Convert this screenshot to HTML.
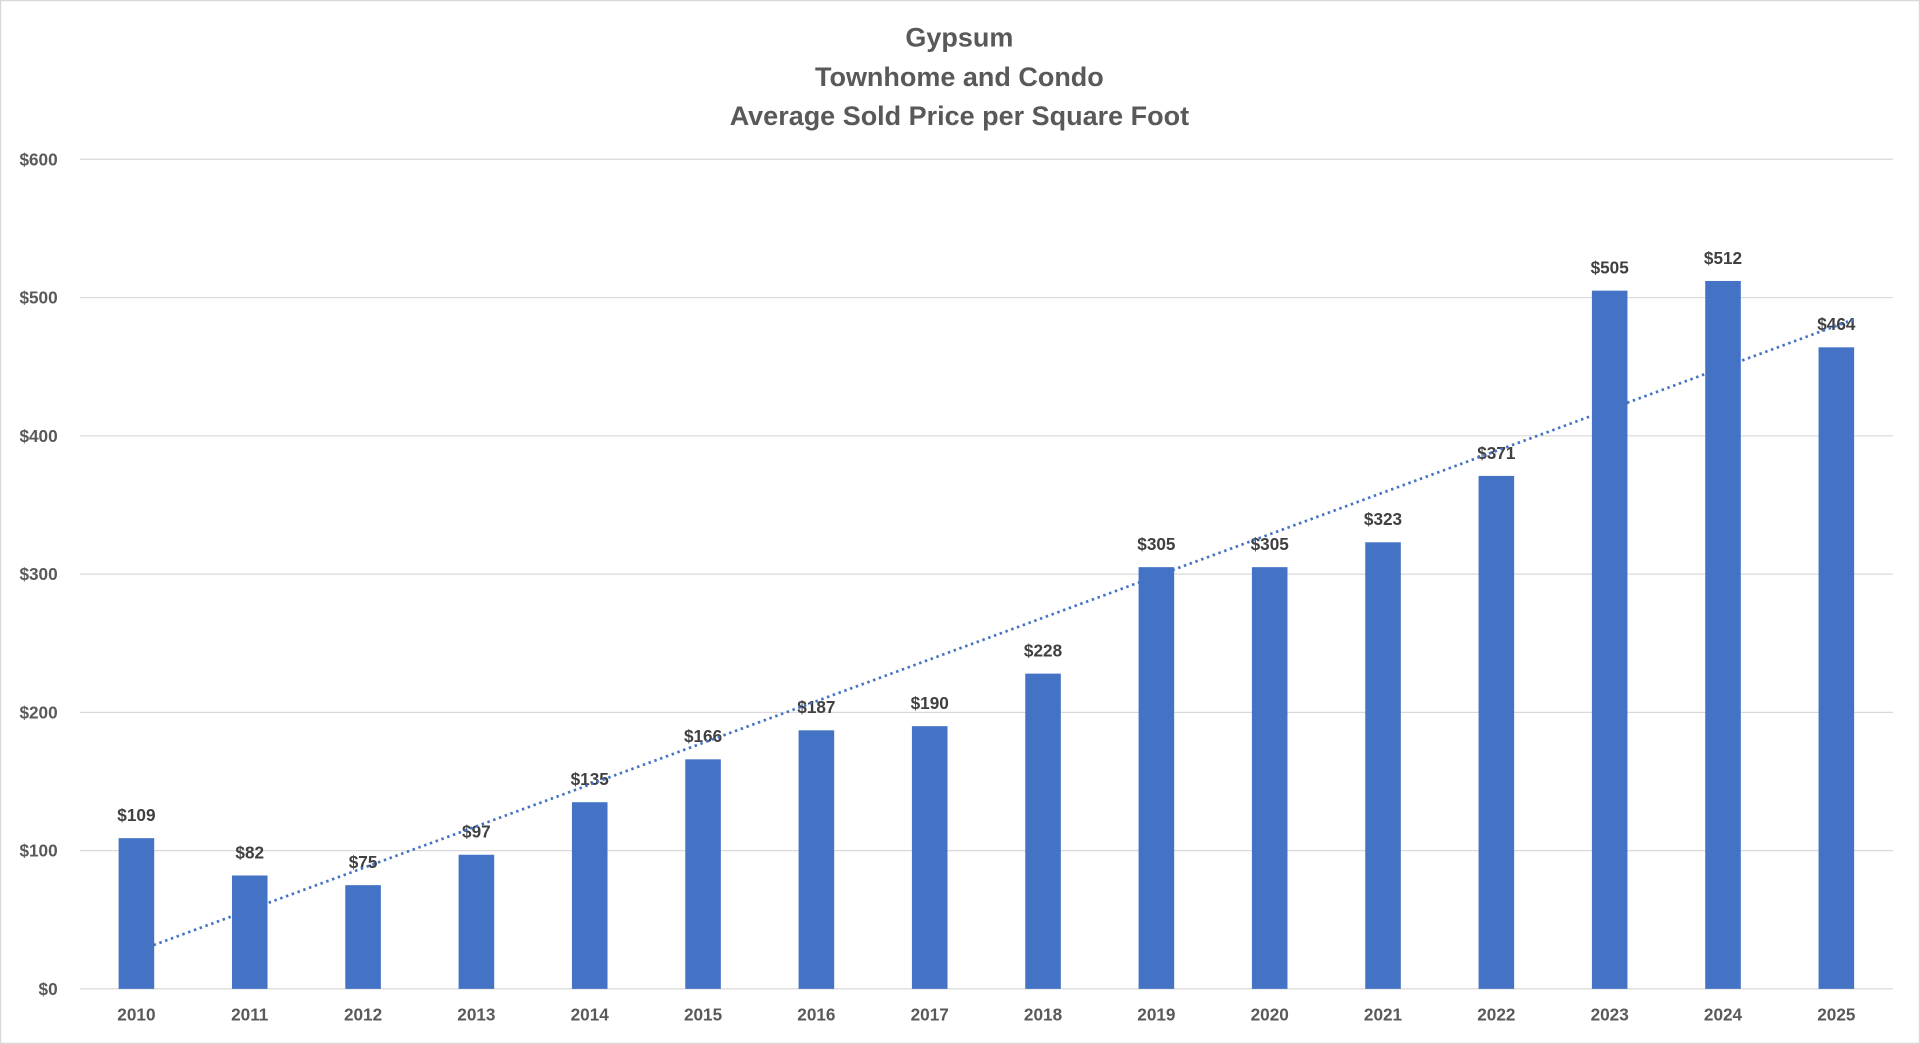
<!DOCTYPE html>
<html><head><meta charset="utf-8">
<style>
html,body{margin:0;padding:0;background:#fff;}
svg{display:block;}
text{font-family:"Liberation Sans",Arial,sans-serif;font-weight:bold;}
</style></head>
<body>
<svg id="chart" width="1920" height="1044" viewBox="0 0 1565 852" preserveAspectRatio="none" xmlns="http://www.w3.org/2000/svg">
<rect x="0.5" y="0.5" width="1564" height="851" fill="#fff" stroke="#d9d9d9"/>
<g fill="#595959" font-size="22" text-anchor="middle">
<text x="782" y="38">Gypsum</text>
<text x="782" y="70">Townhome and Condo</text>
<text x="782" y="102">Average Sold Price per Square Foot</text>
</g>
<g id="grid"></g><g id="bars"></g><g id="labels"></g><g id="trend"></g>
</svg>
<script>
const categories=["2010","2011","2012","2013","2014","2015","2016","2017","2018","2019","2020","2021","2022","2023","2024","2025"];
const values=[109,82,75,97,135,166,187,190,228,305,305,323,371,505,512,464];
const yTicks=[0,100,200,300,400,500,600];
const yTickLabels=["$0","$100","$200","$300","$400","$500","$600"];
const NS="http://www.w3.org/2000/svg";
const x0=65,x1=1543,y0=807,yTop=130,yMax=600;
const step=(x1-x0)/categories.length;
const xPos=i=>x0+step*(i+0.5);
const yPos=v=>y0-(v/yMax)*(y0-yTop);
function mk(tag,attrs,parent,txt){const e=document.createElementNS(NS,tag);for(const k in attrs)e.setAttribute(k,attrs[k]);if(txt!==undefined)e.textContent=txt;document.getElementById(parent).appendChild(e);return e;}
yTicks.forEach((t,i)=>{
  const l=mk('line',{x1:x0,x2:x1,y1:yPos(t),y2:yPos(t),stroke:'#d9d9d9','stroke-width':1},'grid');
  
  
  const tx=mk('text',{x:47,y:yPos(t)+5,'font-size':14,fill:'#595959','text-anchor':'end'},'grid',yTickLabels[i]);
  
  
});
const bw=29;
values.forEach((v,i)=>{
  const b=mk('rect',{x:xPos(i)-bw/2,y:yPos(v),width:bw,height:y0-yPos(v),fill:'#4472c4'},'bars');
  
  
  const vl=mk('text',{x:xPos(i),y:yPos(v)-14,'font-size':14,fill:'#404040','text-anchor':'middle'},'labels','$'+v);
  
  
  const xl=mk('text',{x:xPos(i),y:833,'font-size':14,fill:'#595959','text-anchor':'middle'},'labels',categories[i]);
  
  
});
const n=values.length,mx=(n-1)/2,my=values.reduce((a,b)=>a+b,0)/n;
let sxy=0,sxx=0;values.forEach((v,i)=>{sxy+=(i-mx)*(v-my);sxx+=(i-mx)*(i-mx);});
const slope=sxy/sxx,icpt=my-slope*mx;
const tl=mk('line',{x1:xPos(0)+14,y1:yPos(icpt+slope*0.15),x2:xPos(n-1)+14,y2:yPos(icpt+slope*(n-1+0.15)),stroke:'#4472c4','stroke-width':2.2,'stroke-dasharray':'2 3'},'trend');


</script>
</body></html>
